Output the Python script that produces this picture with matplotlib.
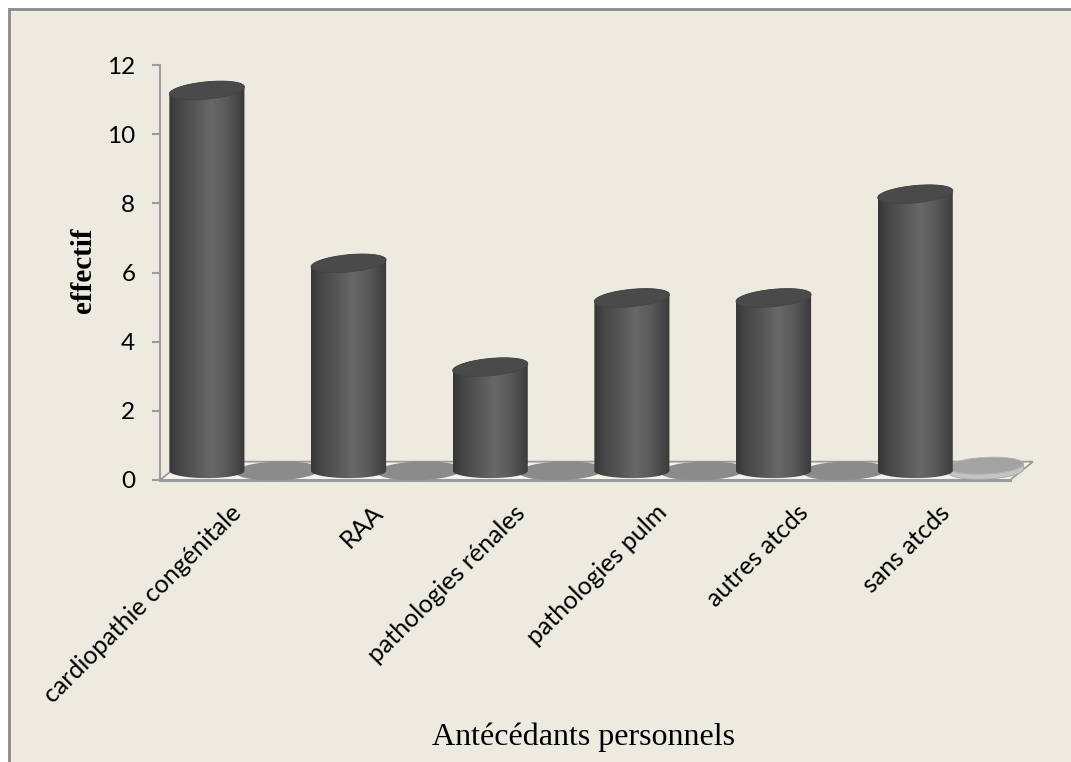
import numpy as np
import matplotlib
matplotlib.use("Agg")
import matplotlib.pyplot as plt
from matplotlib.patches import Polygon, Rectangle
from matplotlib.transforms import ScaledTranslation
from matplotlib.colors import LinearSegmentedColormap

# ---------------- data ----------------
categories = ["cardiopathie congénitale", "RAA", "pathologies rénales",
              "pathologies pulm", "autres atcds", "sans atcds"]
effectif = [11, 6, 3, 5, 5, 8]
serie2 = [0, 0, 0, 0, 0, 0]
y_ticks = [0, 2, 4, 6, 8, 10, 12]
x_title = "Antécédants personnels"
y_title = "effectif"

# ---------------- figure ----------------
W, H = 1071, 762
fig = plt.figure(figsize=(W / 100, H / 100), dpi=100, facecolor="white")
bg = "#EDEAE0"
fig.patches.append(Rectangle((9 / W, -0.02), 1.05, (H - 9) / H + 0.02,
                             transform=fig.transFigure, facecolor=bg,
                             edgecolor="#8a8a8a", lw=2, zorder=-10))

ax = fig.add_axes([160 / W, 282 / H, 850 / W, 415 / H])
ax.patch.set_alpha(0)
ncat = len(categories)
ax.set_xlim(0, ncat)
ax.set_ylim(y_ticks[0], y_ticks[-1])
ax.set_autoscale_on(False)

DX, DY = 0.162, 0.53      # depth of the 3D floor in data units

# floor
floor = Polygon([(0, 0), (ncat, 0), (ncat + DX, DY), (DX, DY)], closed=True,
                facecolor="#F6F4EC", edgecolor="#9a9a9a", lw=1.3,
                clip_on=False, zorder=1)
ax.add_patch(floor)
ax.plot([0, ncat], [0, 0], color="#9a9a9a", lw=2.2, clip_on=False, zorder=1.1)


def ell(cx, cy, a, b, tilt, t):
    return np.column_stack([cx + a * np.cos(t), cy + tilt * np.cos(t) + b * np.sin(t)])


# series 2 discs (value 0)
disc_a, disc_b = 0.30, 0.27
for i, v in enumerate(serie2):
    cx = i + 0.75 + DX / 2
    cy = v + DY / 2
    t = np.linspace(0, 2 * np.pi, 120)
    if i < ncat - 1:
        ax.add_patch(Polygon(ell(cx, cy, disc_a, disc_b, 0.04, t), closed=True,
                             facecolor="#8b8b8b", edgecolor="none",
                             clip_on=False, zorder=2))
    else:
        cy2 = cy + 0.15
        th = 0.15
        tb = np.linspace(np.pi, 2 * np.pi, 60)
        top_front = ell(cx, cy2, 0.265, 0.24, 0.05, tb)
        side = np.vstack([top_front, top_front[::-1] - [0, th]])
        ax.add_patch(Polygon(side, closed=True, facecolor="#c4c4c4",
                             edgecolor="#a8a8a8", lw=0.6, clip_on=False, zorder=2))
        ax.add_patch(Polygon(ell(cx, cy2, 0.265, 0.24, 0.05, t), closed=True,
                             facecolor="#a3a3a3", edgecolor="#b5b5b5", lw=0.6,
                             clip_on=False, zorder=2.1))

# cylinders (series 1)
cmap_body = LinearSegmentedColormap.from_list(
    "body", [(0.0, "#363636"), (0.12, "#454545"), (0.35, "#575757"),
             (0.55, "#686868"), (0.75, "#5a5a5a"), (0.9, "#474747"),
             (1.0, "#3a3a3a")])
grad = np.linspace(0, 1, 256).reshape(1, -1)
a_bar, b_top, b_bot, tilt = 0.265, 0.25, 0.21, 0.1
for i, v in enumerate(effectif):
    cx = i + 0.25 + DX / 2
    y0 = DY / 2
    y1 = v + DY / 2
    tb = np.linspace(np.pi, 2 * np.pi, 80)
    tt = np.linspace(0, np.pi, 80)
    bottom = ell(cx, y0, a_bar, b_bot, 0.0, tb)
    topback = ell(cx, y1, a_bar, b_top, tilt, tt)
    body = Polygon(np.vstack([bottom, topback]), closed=True,
                   facecolor="none", edgecolor="none", transform=ax.transData)
    ax.add_patch(body)
    im = ax.imshow(grad, cmap=cmap_body, aspect="auto", interpolation="bilinear",
                   extent=[cx - a_bar, cx + a_bar, y0 - b_bot - 0.05, y1 + b_top + tilt + 0.05],
                   zorder=3)
    im.set_clip_path(body)
    t = np.linspace(0, 2 * np.pi, 160)
    ax.add_patch(Polygon(ell(cx, y1, a_bar, b_top, tilt, t), closed=True,
                         facecolor="#4a4a4a", edgecolor="#444444", lw=0.6,
                         zorder=4, clip_on=False))

ax.set_xlim(0, ncat)
ax.set_ylim(y_ticks[0], y_ticks[-1])

# axes styling
for s in ["top", "right", "bottom"]:
    ax.spines[s].set_visible(False)
ax.spines["left"].set_color("#9c9c9c")
ax.spines["left"].set_linewidth(1.5)
ax.set_yticks(y_ticks)
ax.set_yticklabels([str(v) for v in y_ticks], family="Lato", fontsize=17.5)
ax.tick_params(axis="y", length=5.8, width=1.5, color="#9c9c9c", pad=12)

ax.set_xticks(np.arange(ncat) + 0.5)
ax.set_xticklabels(categories, rotation=45, ha="right", va="top",
                   rotation_mode="anchor", family="Lato", fontsize=18)
ax.tick_params(axis="x", length=0, pad=15)
off = ScaledTranslation(-1 / 100, 0, fig.dpi_scale_trans)
for lab in ax.get_xticklabels():
    lab.set_transform(lab.get_transform() + off)

fig.text(84 / W, 1 - 270 / H, y_title, rotation=90, ha="center", va="center",
         family="Liberation Serif", fontweight="bold", fontsize=21)
fig.text(583 / W, 1 - 737 / H, x_title, ha="center", va="center",
         family="Liberation Serif", fontsize=23)

fig.savefig("out.png", dpi=100, facecolor="white")
